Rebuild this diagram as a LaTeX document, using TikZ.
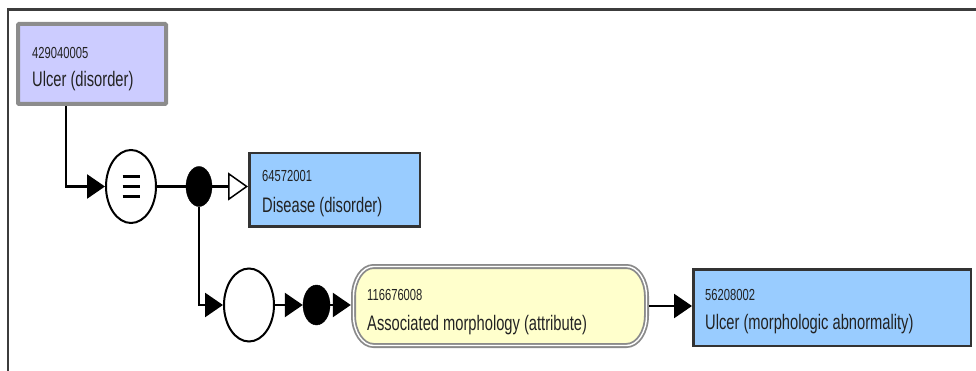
\documentclass[tikz,border=0pt]{standalone}
\usepackage{fontspec}
\usepackage{graphicx}
\setmainfont{Liberation Sans}
\usetikzlibrary{arrows.meta,shapes.geometric}

\definecolor{frameline}{HTML}{3C3C3C}
\definecolor{conceptfill}{HTML}{CCCCFF}
\definecolor{conceptedge}{HTML}{8C8C8C}
\definecolor{targetfill}{HTML}{99CCFF}
\definecolor{targetedge}{HTML}{333333}
\definecolor{attrfill}{HTML}{FFFFCC}
\definecolor{attredge}{HTML}{8A8A8A}
\definecolor{labeltext}{HTML}{222222}

% condensed lettering used in all boxes
\newcommand{\narrowtext}[1]{\scalebox{0.7}[1]{#1}}

\tikzset{
  conn/.style={line width=2.6pt, draw=black},
  tip/.style={-{Triangle[length=18pt,width=24pt]}},
  opentip/.style={-{Triangle[length=20pt,width=28pt,fill=white,line width=1.5pt]}},
  ringnode/.style={ellipse, draw=black, line width=2pt, fill=white, inner sep=0pt,
                   minimum width=50pt, minimum height=73pt},
  dotnode/.style={ellipse, fill=black, draw=black, inner sep=0pt,
                  minimum width=26pt, minimum height=40pt},
  focusbox/.style={rectangle, draw=conceptedge, fill=conceptfill, line width=4pt,
                   rounded corners=1pt, inner sep=0pt},
  targetbox/.style={rectangle, draw=targetedge, fill=targetfill, line width=2.5pt, inner sep=0pt},
  attrborder/.style={draw=attredge, double=white, line width=1.8pt, double distance=1.4pt, fill=attrfill},
  idtext/.style={anchor=base west, inner sep=0pt, text=labeltext, font=\fontsize{16}{18}\selectfont},
  nametext/.style={anchor=base west, inner sep=0pt, text=labeltext, font=\fontsize{21}{24}\selectfont},
}

\begin{document}
\begin{tikzpicture}[x=1pt,y=1pt]
\useasboundingbox (0,0) rectangle (976,-371);

% panel frame
\draw[line width=2.2pt, frameline] (976,-9.5) -- (8,-9.5) -- (8,-371);

% focus concept
\node[focusbox, minimum width=148pt, minimum height=80pt] (n1) at (92,-64) {};
\node[idtext] (n1id) at (32,-59) {\narrowtext{429040005}};
\node[nametext] (n1name) at (32,-87) {\narrowtext{Ulcer (disorder)}};

% definition status and grouping
\node[ringnode] (eq) at (131,-186.5) {};
\foreach \dy in {-10,0,10}
  \draw[line width=3pt] ([xshift=-8.5pt,yshift=\dy pt]eq.center) -- ++(17,0);
\node[dotnode] (d1) at (199,-186.5) {};

% parent concept
\node[targetbox, minimum width=170.5pt, minimum height=73.5pt] (dis) at (334.5,-190) {};
\node[idtext] (disid) at (262,-182) {\narrowtext{64572001}};
\node[nametext] (disname) at (262,-213) {\narrowtext{Disease (disorder)}};

% attribute group
\node[ringnode] (c2) at (249,-305) {};
\node[dotnode, minimum width=27pt] (d2) at (316.5,-305) {};

% attribute: rounded box with a double grey rim
\node[inner sep=0pt, minimum width=298pt, minimum height=84pt] (attr) at (500,-306) {};
\draw[attrborder]
  (373.5,-266.5) -- (626.5,-266.5)
  arc[start angle=90,end angle=0,x radius=20pt,y radius=30pt]
  -- (646.5,-315.5)
  arc[start angle=0,end angle=-90,x radius=20pt,y radius=30pt]
  -- (373.5,-345.5)
  arc[start angle=270,end angle=180,x radius=20pt,y radius=30pt]
  -- (353.5,-296.5)
  arc[start angle=180,end angle=90,x radius=20pt,y radius=30pt]
  -- cycle;
\node[idtext] (attrid) at (367,-300) {\narrowtext{116676008}};
\node[nametext] (attrname) at (367,-330) {\narrowtext{Associated morphology (attribute)}};

% attribute value
\node[targetbox, minimum width=277.5pt, minimum height=76.5pt] (tgt) at (832,-307.5) {};
\node[idtext] (tgtid) at (705,-300) {\narrowtext{56208002}};
\node[nametext] (tgtname) at (705,-329) {\narrowtext{Ulcer (morphologic abnormality)}};

% connectors
\draw[conn, tip] ([xshift=50pt]n1.south west) |- (eq.west);
\draw[conn] (eq.east) -- (d1.west);
\draw[conn, opentip] (d1.east) -- (d1.east -| dis.west);
\draw[conn, tip] (d1.south) |- (c2.west);
\draw[conn, tip] (c2.east) -- (d2.west);
\draw[conn, tip] (d2.east) -- (d2.east -| attr.west);
\draw[conn, tip] (attr.east) -- (attr.east -| tgt.west);
\end{tikzpicture}
\end{document}
